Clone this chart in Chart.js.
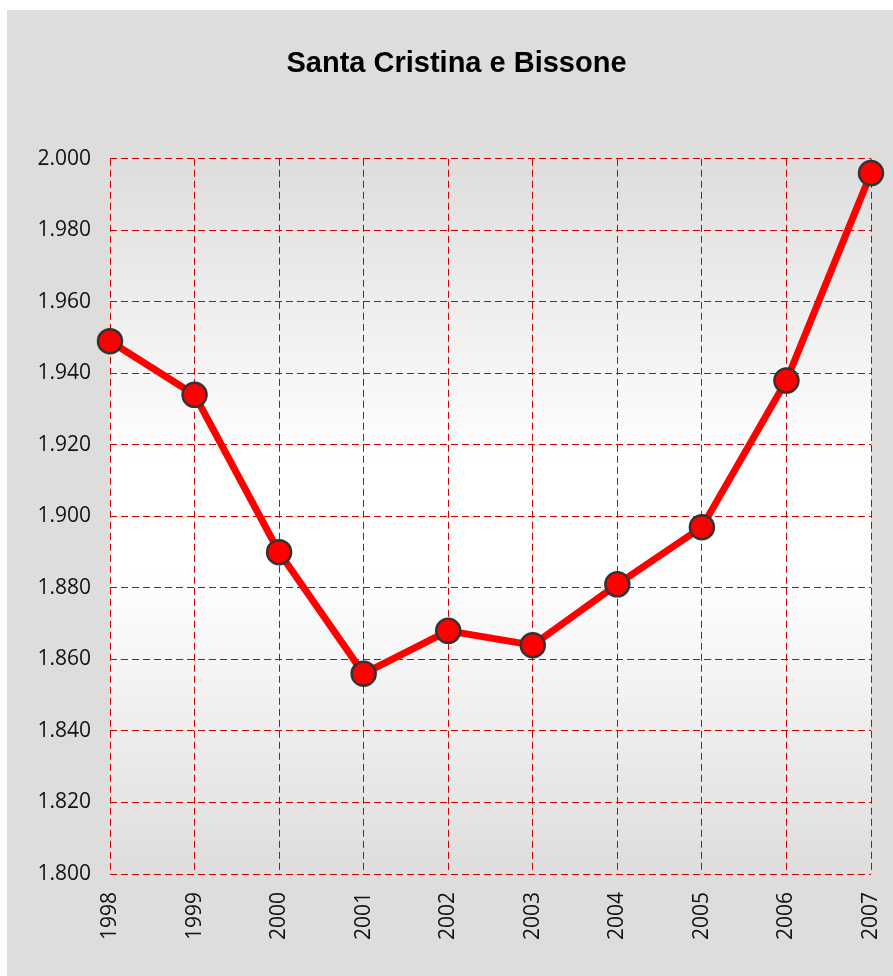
<!DOCTYPE html>
<html>
<head>
<meta charset="utf-8">
<script src="https://cdn.jsdelivr.net/npm/chart.js@4/dist/chart.umd.min.js"></script>
<style>
  html, body { margin: 0; padding: 0; background: #fff; overflow: hidden; }
  #wrap { position: absolute; left: 7px; top: 10px; width: 899px; height: 966px; }
</style>
</head>
<body>
<div id="wrap"><canvas id="myChart" width="899" height="966"></canvas></div>
<script>
const years = ['1998', '1999', '2000', '2001', '2002', '2003', '2004', '2005', '2006', '2007']
const population = [1949, 1934, 1890, 1856, 1868, 1864, 1881, 1897, 1938, 1996]
const yMin = 1800
const yMax = 2000
const yStep = 20

// number with a dot as thousands separator (1.940)
const fmt = function (v) {
    return Math.floor(v / 1000) + '.' + String(v % 1000).padStart(3, '0')
}

// gray panel + plot area gradient
const bgPlugin = {
    id: 'bg',
    beforeDraw(chart) {
        const ctx = chart.ctx
        const a = chart.chartArea
        ctx.save()
        ctx.fillStyle = '#dddddd'
        ctx.fillRect(0, 0, chart.width, chart.height)
        const g = ctx.createLinearGradient(0, a.top, 0, a.bottom)
        g.addColorStop(0, '#dddddd')
        g.addColorStop(0.42, '#ffffff')
        g.addColorStop(0.58, '#ffffff')
        g.addColorStop(1, '#dddddd')
        ctx.fillStyle = g
        ctx.fillRect(a.left, a.top, a.right - a.left, a.bottom - a.top)
        ctx.restore()
    }
}

const tickFont = { family: '"Open Sans", sans-serif', size: 21 }
const gridDash = [7, 4]

const config = {
    type: 'line',
    data: {
        labels: years,
        datasets: [{
            data: population,
            borderColor: '#ff0000',
            borderWidth: 7,
            backgroundColor: '#ff0000',
            pointBackgroundColor: '#ff0000',
            pointBorderColor: '#333333',
            pointBorderWidth: 2.5,
            pointRadius: 12,
            tension: 0,
            clip: false
        }]
    },
    options: {
        responsive: false,
        animation: false,
        layout: { padding: 0 },
        plugins: {
            legend: { display: false },
            tooltip: { enabled: false },
            title: {
                display: true,
                text: 'Santa Cristina e Bissone',
                color: '#000',
                font: { family: '"Liberation Sans", Arial, sans-serif', size: 29, weight: 'bold' },
                padding: { top: 37, bottom: 77 }
            }
        },
        scales: {
            x: {
                offset: false,
                border: { display: false, dash: gridDash },
                grid: { color: '#d00000', lineWidth: 1, drawTicks: false },
                ticks: {
                    color: '#111',
                    font: tickFont,
                    padding: 18,
                    minRotation: 90,
                    maxRotation: 90,
                    autoSkip: false
                },
                afterFit(scale) {
                    scale.height = 102
                    scale.paddingLeft = 0
                    scale.paddingRight = 35
                }
            },
            y: {
                min: yMin,
                max: yMax,
                border: { display: false, dash: gridDash },
                grid: { color: '#d00000', lineWidth: 1, drawTicks: false },
                ticks: {
                    stepSize: yStep,
                    color: '#111',
                    font: tickFont,
                    padding: 19,
                    callback: (v) => fmt(v)
                },
                afterFit(scale) { scale.width = 103 }
            }
        }
    },
    plugins: [bgPlugin]
}

const myChart = new Chart(document.getElementById('myChart'), config)
</script>
</body>
</html>
